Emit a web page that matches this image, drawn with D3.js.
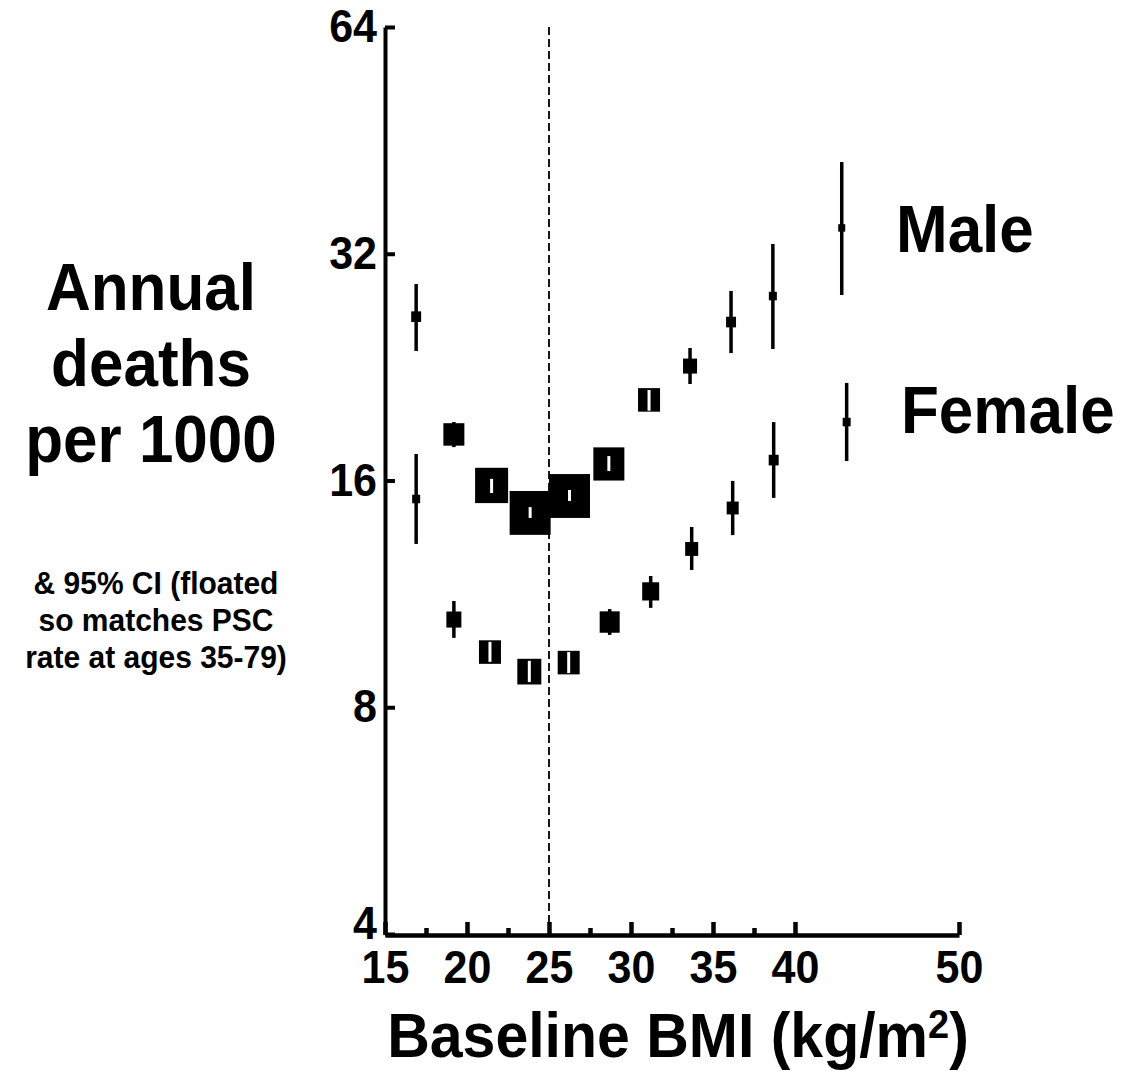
<!DOCTYPE html>
<html>
<head>
<meta charset="utf-8">
<script src="https://cdn.jsdelivr.net/npm/d3@7"></script>
<style>
body { margin: 0; background: #fff; }
svg { font-family: "Liberation Sans", Arial, sans-serif; font-weight: bold; }
</style>
</head>
<body>
<svg id="chart" width="1124" height="1073"></svg>
<script>
var canvas = d3.select("#chart");

// BMI group means and annual deaths per 1000 (with 95% CI)
var maleBmi   = [16.9, 19.2, 21.5, 23.85, 26.25, 28.65, 31.1, 33.6, 36.1, 38.65, 42.85];
var maleRate  = [26.4, 18.42, 15.76, 14.49, 15.26, 16.83, 20.47, 22.7, 25.97, 28.12, 34.63];
var maleLo    = [23.77, 17.72, 15.40, 14.27, 15.03, 16.47, 19.79, 21.49, 23.62, 23.92, 28.21];
var maleHi    = [29.17, 19.13, 16.08, 14.75, 15.54, 17.24, 21.10, 23.99, 28.56, 32.97, 42.36];
var maleInfo  = [5.9, 26.2, 64.8, 100, 100, 57.2, 28.8, 11.7, 5.9, 3.8, 2.9]; // relative info (box area)

var femaleBmi  = [16.9, 19.2, 21.4, 23.8, 26.2, 28.7, 31.2, 33.7, 36.2, 38.7, 43.15];
var femaleRate = [15.12, 10.46, 9.47, 8.92, 9.17, 10.38, 11.40, 12.98, 14.71, 17.03, 19.13];
var femaleLo   = [13.18, 9.89, 9.19, 8.64, 8.88, 9.98, 10.84, 12.17, 13.54, 15.17, 16.98];
var femaleHi   = [17.35, 11.07, 9.77, 9.22, 9.47, 10.80, 11.95, 13.88, 15.98, 19.13, 21.56];
var femaleInfo = [3.8, 13.4, 28.8, 34.3, 28.8, 23.8, 17.2, 10.1, 8.6, 5.9, 3.8];

var xTicks = [15, 20, 25, 30, 35, 40, 50];
var xMinor = [17.5, 22.5, 27.5, 32.5, 37.5];
var yTicks = [4, 8, 16, 32, 64];
var refBmi = 25;

var stretch = 1.07; // the original picture is a little taller than wide

var x = d3.scaleLinear().domain([15, 50]).range([385, 959]);
var y = d3.scaleLog().base(2).domain([4, 64]).range([934, 27]);
var boxSize = d3.scaleSqrt().domain([0, 100]).range([0, 41]);

function addText(px, py, size, str, anchor) {
    return canvas.append("text")
        .attr("transform", "translate(" + px + "," + py + ") scale(1," + stretch + ")")
        .attr("text-anchor", anchor || "start")
        .style("font-size", size + "px")
        .text(str);
}

// reference line at BMI 25
canvas.append("line")
    .attr("x1", x(refBmi)).attr("x2", x(refBmi))
    .attr("y1", y(64)).attr("y2", y(4))
    .attr("stroke", "#000")
    .attr("stroke-width", 1.8)
    .attr("stroke-dasharray", "8,4");

// axes
var yAxis = canvas.append("g")
    .attr("transform", "translate(385,0)")
    .call(d3.axisLeft(y).tickValues(yTicks).tickFormat(d3.format("d"))
        .tickSize(-10).tickSizeOuter(0).tickPadding(8));
yAxis.select(".domain").attr("stroke-width", 4);
yAxis.selectAll(".tick line").attr("stroke-width", 4);
yAxis.selectAll("text").style("font-size", "43px").attr("fill", "#000")
    .attr("transform", "scale(1," + stretch + ")");
yAxis.selectAll(".tick").filter(function(d) { return d === 4; })
    .select("text").attr("dy", "0.1em");

var xAxis = canvas.append("g")
    .attr("transform", "translate(0,935)")
    .call(d3.axisBottom(x).tickValues(xTicks).tickFormat(d3.format("d"))
        .tickSize(-13).tickSizeOuter(0).tickPadding(14));
xAxis.select(".domain").attr("stroke-width", 4.5);
xAxis.selectAll(".tick line").attr("stroke-width", 4.5);
xAxis.selectAll("text").style("font-size", "43px").attr("fill", "#000")
    .attr("transform", "scale(1," + stretch + ")");

var xMinorAxis = canvas.append("g")
    .attr("transform", "translate(0,935)")
    .call(d3.axisBottom(x).tickValues(xMinor).tickFormat("").tickSize(-7));
xMinorAxis.select(".domain").remove();
xMinorAxis.selectAll(".tick line").attr("stroke-width", 4.5);

function drawSeries(bmi, rate, lo, hi, info) {
    for (var i = 0; i < bmi.length; i++) {
        var cx = x(bmi[i]);
        var cy = y(rate[i]);
        var w = boxSize(info[i]);
        var h = w * stretch;
        var g = canvas.append("g");
        g.append("line")
            .attr("x1", cx).attr("x2", cx)
            .attr("y1", y(hi[i])).attr("y2", y(lo[i]))
            .attr("stroke", "#000")
            .attr("stroke-width", 3.5);
        g.append("rect")
            .attr("x", cx - w / 2)
            .attr("y", cy - h / 2)
            .attr("width", w)
            .attr("height", h)
            .attr("fill", "#000");
        // CI shown in white where it sits inside a big box
        if (w > 21.5) {
            var top = Math.max(y(hi[i]), cy - h / 2 + 1);
            var bot = Math.min(y(lo[i]), cy + h / 2 - 1);
            g.append("line")
                .attr("x1", cx).attr("x2", cx)
                .attr("y1", top).attr("y2", bot)
                .attr("stroke", "#fff")
                .attr("stroke-width", 3);
        }
    }
}

drawSeries(maleBmi, maleRate, maleLo, maleHi, maleInfo);
drawSeries(femaleBmi, femaleRate, femaleLo, femaleHi, femaleInfo);

// series labels
addText(896, 252, 62, "Male");
addText(901, 433, 62, "Female");

// y title
var yTitle = ["Annual", "deaths", "per 1000"];
yTitle.forEach(function(s, i) {
    addText(151, 310 + i * 76, 62, s, "middle");
});
var yNote = ["& 95% CI (floated", "so matches PSC", "rate at ages 35-79)"];
yNote.forEach(function(s, i) {
    addText(156, 594 + i * 37, 30, s, "middle");
});

// x title
var xTitle = addText(678, 1057, 59, "", "middle");
xTitle.append("tspan").text("Baseline BMI (kg/m");
xTitle.append("tspan").attr("dy", -18).style("font-size", "38px").text("2");
xTitle.append("tspan").attr("dy", 18).text(")");
</script>
</body>
</html>
